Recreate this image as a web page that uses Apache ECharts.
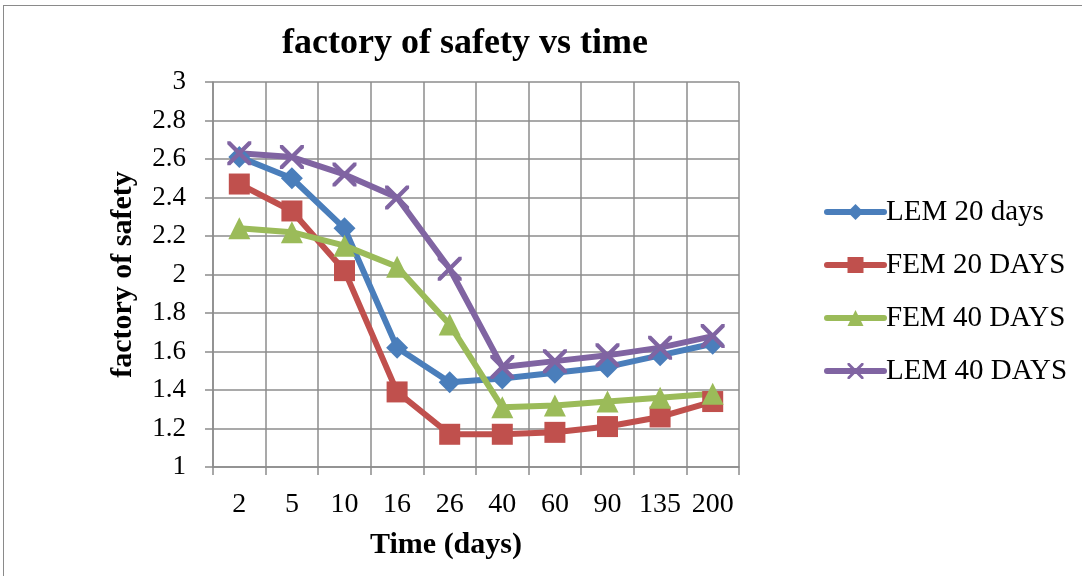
<!DOCTYPE html>
<html>
<head>
<meta charset="utf-8">
<script src="https://cdn.jsdelivr.net/npm/echarts@6/dist/echarts.min.js"></script>
<style>
  html, body { margin: 0; padding: 0; background: #ffffff; }
  #frame { position: absolute; left: 3px; top: 5px; width: 1090px; height: 600px; border: 1.5px solid #8a8a8a; box-sizing: border-box; }
  #chart { position: absolute; left: 0; top: 0; width: 1082px; height: 576px; }
</style>
</head>
<body>
<div id="frame"></div>
<div id="chart"></div>
<script>
// Time steps (days) and factor of safety per method
const categories = ['2', '5', '10', '16', '26', '40', '60', '90', '135', '200'];
const lem20 = [2.61, 2.50, 2.24, 1.62, 1.44, 1.46, 1.49, 1.52, 1.58, 1.64];
const fem20 = [2.47, 2.33, 2.02, 1.39, 1.17, 1.17, 1.18, 1.21, 1.26, 1.34];
const fem40 = [2.24, 2.22, 2.15, 2.04, 1.74, 1.31, 1.32, 1.34, 1.36, 1.38];
const lem40 = [2.63, 2.61, 2.52, 2.40, 2.03, 1.52, 1.55, 1.58, 1.62, 1.68];

const serif = '"Liberation Serif", "DejaVu Serif", serif';
const gridGrey = '#8c8c8c';
const crossPath = 'path://M0,0 L2.5,0 L10,7.5 L17.5,0 L20,0 L20,2.5 L12.5,10 L20,17.5 L20,20 L17.5,20 L10,12.5 L2.5,20 L0,20 L0,17.5 L7.5,10 L0,2.5 Z';

function line(name, data, color, symbol, size) {
  return {
    name: name,
    type: 'line',
    data: data,
    symbol: symbol,
    symbolSize: size,
    showSymbol: true,
    lineStyle: { color: color, width: 6, cap: 'round', join: 'round' },
    itemStyle: { color: color },
    emphasis: { disabled: true }
  };
}

const chart = echarts.init(document.getElementById('chart'), null, { renderer: 'canvas' });
chart.setOption({
  animation: false,
  backgroundColor: 'transparent',
  title: {
    text: 'factory of safety vs time',
    left: 460,
    textAlign: 'center',
    top: 21,
    textStyle: { fontFamily: serif, fontSize: 36, fontWeight: 'bold', color: '#000' }
  },
  grid: { left: 213, top: 82, width: 526, height: 385, containLabel: false },
  legend: {
    orient: 'vertical',
    left: 824,
    top: 197,
    padding: 0,
    itemWidth: 57,
    itemHeight: 20,
    itemGap: 23,
    lineStyle: { width: 6, cap: 'round' },
    textStyle: { fontFamily: serif, fontSize: 29, lineHeight: 30, color: '#000', padding: [0, 0, 0, -3] },
    data: ['LEM 20 days', 'FEM 20 DAYS', 'FEM 40 DAYS', 'LEM 40 DAYS']
  },
  xAxis: {
    type: 'category',
    data: categories,
    boundaryGap: true,
    name: 'Time (days)',
    nameLocation: 'middle',
    nameGap: 63,
    nameTextStyle: { fontFamily: serif, fontSize: 30, fontWeight: 'bold', color: '#000', padding: [0, 60, 0, 0] },
    axisLine: { lineStyle: { color: gridGrey, width: 1.5 } },
    axisTick: { show: true, length: 8, alignWithLabel: false, lineStyle: { color: gridGrey, width: 1.5 } },
    axisLabel: { fontFamily: serif, fontSize: 28, color: '#000', margin: 24, interval: 0 },
    splitLine: { show: true, lineStyle: { color: gridGrey, width: 1.5 } }
  },
  yAxis: {
    type: 'value',
    min: 1,
    max: 3,
    interval: 0.2,
    name: 'factory of safety',
    nameLocation: 'middle',
    nameGap: 75,
    nameTextStyle: { fontFamily: serif, fontSize: 30, fontWeight: 'bold', color: '#000' },
    axisLine: { show: true, lineStyle: { color: gridGrey, width: 1.5 } },
    axisTick: { show: true, length: 8, lineStyle: { color: gridGrey, width: 1.5 } },
    axisLabel: {
      fontFamily: serif, fontSize: 27, color: '#000', margin: 27,
      formatter: v => String(Math.round(v * 10) / 10)
    },
    splitLine: { show: true, lineStyle: { color: gridGrey, width: 1.5 } }
  },
  series: [
    line('LEM 20 days', lem20, '#4a7ebb', 'diamond', 22),
    line('FEM 20 DAYS', fem20, '#c0504d', 'rect', 21),
    line('FEM 40 DAYS', fem40, '#9bbb59', 'triangle', 22),
    line('LEM 40 DAYS', lem40, '#8064a2', crossPath, 24)
  ]
});
</script>
</body>
</html>
